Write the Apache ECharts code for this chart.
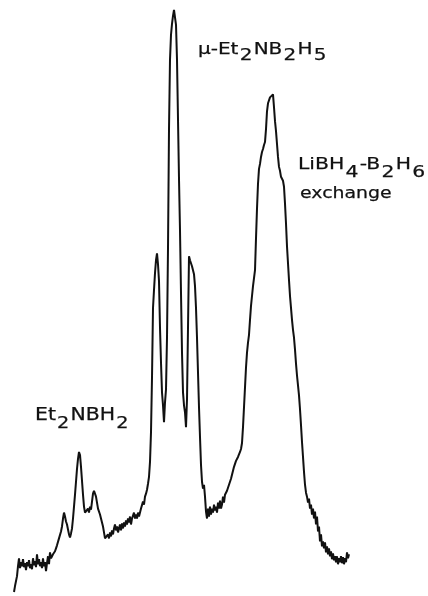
<!DOCTYPE html>
<html>
<head>
<meta charset="utf-8">
<script src="https://cdn.jsdelivr.net/npm/echarts@6/dist/echarts.min.js"></script>
<style>
  html, body { margin: 0; padding: 0; background: #fff; }
  #chart { width: 428px; height: 596px; }
</style>
</head>
<body>
<div id="chart"></div>
<script>
// Spectrum sampled at one value per channel, starting at firstChannel.
const firstChannel = 14;

// Et2NBH2 region and low-field baseline (channels 14..153)
const intensityLow = [
  4, 10, 8, 20, 30, 38, 28, 34, 30, 37, 29, 33, 26, 34, 30, 36, 28, 32, 27, 38,
  31, 35, 29, 42, 32, 37, 30, 34, 28, 38, 30, 34, 25, 33, 40, 32, 44, 38, 37, 42,
  40, 45, 48, 51, 52, 58, 56, 65, 70, 78, 84, 80, 75, 72, 67, 62, 59, 63, 68, 78,
  90, 102, 115, 128, 138, 145, 142, 130, 116, 102, 90, 84, 86, 82, 88, 84, 90, 87, 95, 103,
  106, 107, 100, 94, 88, 90, 82, 78, 74, 70, 64, 58, 60, 56, 62, 58, 64, 60, 66, 62,
  68, 72, 66, 70, 64, 68, 72, 66, 73, 68, 74, 70, 76, 72, 78, 74, 80, 72, 78, 76,
  84, 78, 82, 78, 84, 80, 84, 88, 90, 95, 92, 100, 103, 107, 113, 120, 135
];

// mu-Et2NB2H5 triplet (channels 154..205)
const intensityMid = [
  165, 220, 290, 308, 325, 338, 345, 334, 317, 270, 235, 205, 192, 175, 195, 208,
  260, 350, 470, 540, 565, 576, 584, 590, 592, 575, 540, 480, 420, 368, 305, 245,
  205, 192, 185, 170, 198, 270, 342, 338, 340, 332, 330, 324, 312, 290, 260, 225,
  190, 160, 132, 115
];

// LiBH4-B2H6 exchange peak and high-field baseline (channels 206..352)
const intensityHigh = [
  108, 112, 100, 85, 78, 88, 80, 90, 82, 88, 84, 92, 86, 90, 84, 94, 88, 96, 88, 92,
  100, 94, 102, 100, 106, 105, 112, 112, 118, 122, 126, 130, 132, 136, 134, 140, 142, 145, 148, 154,
  170, 190, 210, 230, 245, 255, 263, 278, 292, 302, 312, 320, 328, 360, 390, 415, 430, 435, 442, 447,
  450, 454, 457, 470, 488, 496, 498, 502, 500, 504, 505, 492, 478, 468, 455, 442, 432, 428, 422, 422,
  418, 412, 395, 375, 352, 335, 318, 302, 290, 278, 268, 260, 248, 234, 222, 212, 202, 188, 172, 155,
  140, 125, 112, 104, 100, 94, 98, 88, 92, 82, 88, 78, 85, 72, 80, 65, 70, 55, 62, 50,
  55, 48, 54, 44, 50, 42, 48, 40, 45, 37, 43, 36, 40, 34, 40, 32, 38, 34, 40, 33,
  39, 32, 38, 34, 44, 38, 42
];

const peakLabels = ['Et2NBH2', 'μ-Et2NB2H5', 'LiBH4-B2H6', 'exchange'];

const spectrum = intensityLow.concat(intensityMid, intensityHigh)
  .map((v, i) => [firstChannel + i, v]);

const FONT = 'DejaVu Sans';
const INK = '#111';

function richStyles(mainSize, subSize, drop) {
  const base = { fontFamily: FONT, fill: INK, stroke: INK, lineWidth: 0.25, lineHeight: 20, verticalAlign: 'top' };
  return {
    n: Object.assign({ fontSize: mainSize }, base),
    s: Object.assign({ fontSize: subSize, padding: [drop, 1, 0, 1] }, base)
  };
}

const chart = echarts.init(document.getElementById('chart'), null, { renderer: 'canvas' });
chart.setOption({
  animation: false,
  backgroundColor: '#fff',
  grid: { left: 0, right: 0, top: 0, bottom: -4 },
  xAxis: { type: 'value', min: 0, max: 428, show: false },
  yAxis: { type: 'value', min: 0, max: 600, show: false },
  series: [{
    type: 'line',
    data: spectrum,
    showSymbol: false,
    lineStyle: { color: INK, width: 2 },
    silent: true
  }],
  graphic: [
    {
      type: 'text', x: 35, y: 407, scaleX: 1.2,
      style: {
        text: '{n|Et}{s|2}{n|NBH}{s|2}',
        rich: richStyles(17, 16, 9),
        align: 'left', verticalAlign: 'top'
      }
    },
    {
      type: 'text', x: 198, y: 42, scaleX: 1.25,
      style: {
        text: '{n|μ-Et}{s|2}{n|NB}{s|2}{n|H}{s|5}',
        rich: richStyles(16, 16, 6),
        align: 'left', verticalAlign: 'top'
      }
    },
    {
      type: 'text', x: 298, y: 157, scaleX: 1.27,
      style: {
        text: '{n|LiBH}{s|4}{n|-B}{s|2}{n|H}{s|6}',
        rich: richStyles(16, 16, 8),
        align: 'left', verticalAlign: 'top'
      }
    },
    {
      type: 'text', x: 300, y: 186, scaleX: 1.18,
      style: {
        text: '{n|exchange}',
        rich: richStyles(16, 16, 0),
        align: 'left', verticalAlign: 'top'
      }
    }
  ]
});
</script>
</body>
</html>
